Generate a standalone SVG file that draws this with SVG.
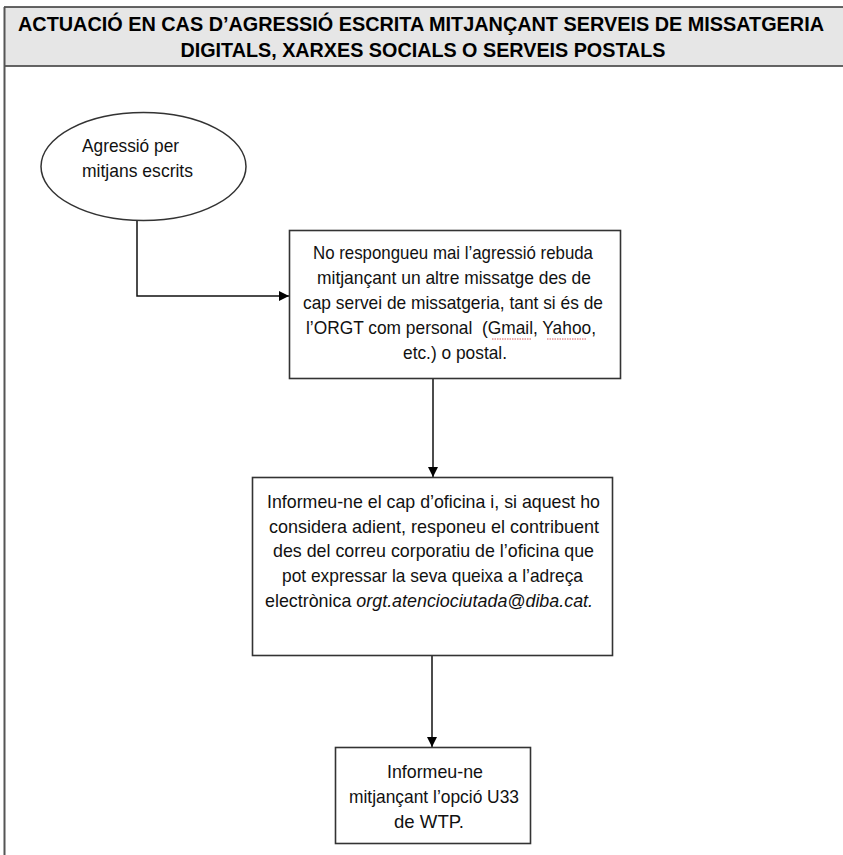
<svg xmlns="http://www.w3.org/2000/svg" width="843" height="855" viewBox="0 0 843 855">
<style>
.t{font-family:"Liberation Sans Narrow","Liberation Sans",Arial,sans-serif;font-size:19px;fill:#111;white-space:pre;}
.h{font-family:"Liberation Sans Narrow","Liberation Sans",Arial,sans-serif;font-size:21px;font-weight:bold;fill:#000;}
.box{fill:#fff;stroke:#333;stroke-width:1.6;}
.ln{fill:none;stroke:#111;stroke-width:1.5;}
.sq{fill:none;stroke:#d03030;stroke-width:0.8;stroke-dasharray:1.5 1;}
</style>
<defs>
<marker id="ah" viewBox="0 0 10 10" refX="10" refY="5" markerWidth="10" markerHeight="10" markerUnits="userSpaceOnUse" orient="auto">
<path d="M0,0 L10,5 L0,10 z" fill="#000"/>
</marker>
</defs>
<rect width="843" height="855" fill="#fff"/>
<g id="header">
<rect x="4" y="7" width="839" height="58.5" fill="#e6e6e6"/>
<path d="M4,7 H843 M4,66 H843" stroke="#333" stroke-width="1.5" fill="none"/>
<line x1="4.5" y1="7" x2="4.5" y2="855" stroke="#555" stroke-width="2"/>
<text class="h" x="421" y="31" text-anchor="middle" textLength="806" lengthAdjust="spacingAndGlyphs">ACTUACIÓ EN CAS D’AGRESSIÓ ESCRITA MITJANÇANT SERVEIS DE MISSATGERIA</text>
<text class="h" x="423" y="57" text-anchor="middle" textLength="485" lengthAdjust="spacingAndGlyphs">DIGITALS, XARXES SOCIALS O SERVEIS POSTALS</text>
</g>
<g id="connectors">
<path class="ln" d="M137,220 V296 H289" marker-end="url(#ah)"/>
<line class="ln" x1="433" y1="379" x2="433" y2="477" marker-end="url(#ah)"/>
<line class="ln" x1="432" y1="656" x2="432" y2="747" marker-end="url(#ah)"/>
</g>
<g id="start">
<ellipse cx="143.5" cy="166.5" rx="102.5" ry="54" fill="#fff" stroke="#333" stroke-width="1.5"/>
<text class="t" x="82" y="152" textLength="97" lengthAdjust="spacingAndGlyphs">Agressió per</text>
<text class="t" x="82" y="177" textLength="111" lengthAdjust="spacingAndGlyphs">mitjans escrits</text>
</g>
<g id="step1">
<rect class="box" x="289.5" y="230.5" width="331" height="148"/>
<text class="t" x="453" y="259" text-anchor="middle" textLength="280" lengthAdjust="spacingAndGlyphs">No respongueu mai l’agressió rebuda</text>
<text class="t" x="454" y="284" text-anchor="middle" textLength="274" lengthAdjust="spacingAndGlyphs">mitjançant un altre missatge des de</text>
<text class="t" x="453" y="309" text-anchor="middle" textLength="300" lengthAdjust="spacingAndGlyphs">cap servei de missatgeria, tant si és de</text>
<text class="t" x="451" y="334" text-anchor="middle" textLength="290" lengthAdjust="spacingAndGlyphs" xml:space="preserve">l’ORGT com personal  (Gmail, Yahoo,</text>
<text class="t" x="455" y="359" text-anchor="middle" textLength="104" lengthAdjust="spacingAndGlyphs">etc.) o postal.</text>
<path class="sq" d="M492,339 H532 M547,339 H586"/>
</g>
<g id="step2">
<rect class="box" x="252.5" y="477.5" width="360" height="178"/>
<text class="t" x="433.5" y="508" text-anchor="middle" textLength="333" lengthAdjust="spacingAndGlyphs">Informeu-ne el cap d’oficina i, si aquest ho</text>
<text class="t" x="434" y="533" text-anchor="middle" textLength="330" lengthAdjust="spacingAndGlyphs">considera adient, responeu el contribuent</text>
<text class="t" x="433.5" y="557" text-anchor="middle" textLength="321" lengthAdjust="spacingAndGlyphs">des del correu corporatiu de l’oficina que</text>
<text class="t" x="432.5" y="582" text-anchor="middle" textLength="301" lengthAdjust="spacingAndGlyphs">pot expressar la seva queixa a l’adreça</text>
<text class="t" x="429" y="607" text-anchor="middle" textLength="328" lengthAdjust="spacingAndGlyphs">electrònica <tspan font-style="italic">orgt.atenciociutada@diba.cat.</tspan></text>
</g>
<g id="step3">
<rect class="box" x="335.5" y="747.5" width="195" height="96"/>
<text class="t" x="435" y="778" text-anchor="middle" textLength="96" lengthAdjust="spacingAndGlyphs">Informeu-ne</text>
<text class="t" x="434" y="803" text-anchor="middle" textLength="170" lengthAdjust="spacingAndGlyphs">mitjançant l’opció U33</text>
<text class="t" x="429" y="828" text-anchor="middle" textLength="70" lengthAdjust="spacingAndGlyphs">de WTP.</text>
</g>
</svg>
